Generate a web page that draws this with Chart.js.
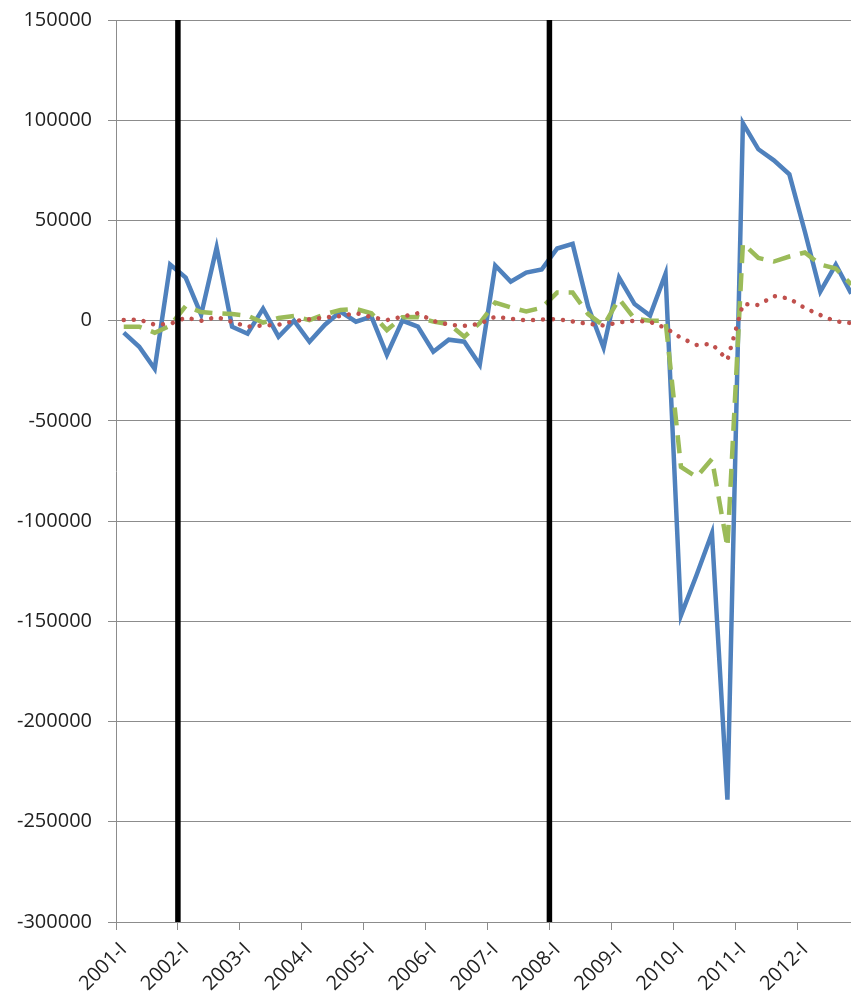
<!DOCTYPE html>
<html>
<head>
<meta charset="utf-8">
<script src="https://cdn.jsdelivr.net/npm/chart.js@4"></script>
<style>
  html, body { margin: 0; padding: 0; background: #fff; overflow: hidden; }
  #wrap { width: 870px; height: 991px; }
</style>
</head>
<body>
<div id="wrap"><canvas id="chart" width="870" height="991"></canvas></div>
<script>
// quarters on the category axis
var quarters = [
    '2001-I', '2001-II', '2001-III', '2001-IV',
    '2002-I', '2002-II', '2002-III', '2002-IV',
    '2003-I', '2003-II', '2003-III', '2003-IV',
    '2004-I', '2004-II', '2004-III', '2004-IV',
    '2005-I', '2005-II', '2005-III', '2005-IV',
    '2006-I', '2006-II', '2006-III', '2006-IV',
    '2007-I', '2007-II', '2007-III', '2007-IV',
    '2008-I', '2008-II', '2008-III', '2008-IV',
    '2009-I', '2009-II', '2009-III', '2009-IV',
    '2010-I', '2010-II', '2010-III', '2010-IV',
    '2011-I', '2011-II', '2011-III', '2011-IV',
    '2012-I', '2012-II', '2012-III', '2012-IV'
];

// solid blue series
var seriesBlue = [
    -6000, -13000, -24000, 28000,
    21500, 3000, 36500, -3000,
    -6500, 6000, -8000, 0,
    -10500, -2000, 4500, -500,
    2000, -17000, 0, -3000,
    -15500, -9500, -10500, -22000,
    27500, 19500, 24000, 25500,
    36000, 38300, 7000, -13500,
    21500, 8300, 2500, 23300,
    -147000, -127000, -106000, -239000,
    98500, 85500, 80000, 73000,
    44500, 14500, 28000, 13500
];

// dashed green series
var seriesGreen = [
    -3000, -3000, -6000, -2500,
    7300, 4300, 3700, 3300,
    2500, -1000, 1300, 2300,
    300, 3300, 5300, 5800,
    3700, -4700, 1700, 1800,
    -500, -1700, -8000, -1200,
    9000, 6600, 4600, 6400,
    14000, 14000, 3300, -2500,
    10800, 1000, 0, 0,
    -73000, -78000, -69000, -113000,
    38500, 31300, 29500, 32000,
    34000, 28000, 26000, 18000
];

// dotted red series
var seriesRed = [
    300, 500, -2000, -1600,
    1500, -100, 1800, -600,
    -3000, -2400, -2000, -200,
    700, 1600, 2300, 3800,
    1800, 300, 2000, 3700,
    -200, -2000, -2600, -1600,
    2000, 1000, 100, 600,
    800, -400, -1600, -2400,
    -900, 0, -600, -3600,
    -8600, -12100, -11600, -19600,
    8300, 7800, 12300, 11000,
    6300, 2800, -400, -1200
];

// black vertical lines sit at the start of these quarters
var dividers = ['2002-I', '2008-I'];

var yMin = -300000, yMax = 150000, yStep = 50000;

var axisGrey = '#8c8c8c';
var textFont = { family: "'Open Sans', sans-serif", size: 20 };

var dividerPlugin = {
    id: 'dividers',
    afterDatasetsDraw: function(chart) {
        var ctx = chart.ctx;
        var area = chart.chartArea;
        var x = chart.scales.x;
        ctx.save();
        ctx.strokeStyle = '#000';
        ctx.lineWidth = 5.5;
        dividers.forEach(function(label) {
            var i = quarters.indexOf(label);
            var px = (x.getPixelForValue(i - 1) + x.getPixelForValue(i)) / 2;
            ctx.beginPath();
            ctx.moveTo(px, area.top);
            ctx.lineTo(px, area.bottom);
            ctx.stroke();
        });
        ctx.restore();
    }
};

new Chart(document.getElementById('chart').getContext('2d'), {
    type: 'line',
    data: {
        labels: quarters,
        datasets: [{
            data: seriesBlue,
            borderColor: '#4F81BD',
            borderWidth: 4.5,
            pointRadius: 0,
            tension: 0,
            order: 3
        }, {
            data: seriesGreen,
            borderColor: '#9BBB59',
            borderWidth: 4.5,
            borderDash: [18, 10],
            pointRadius: 0,
            tension: 0,
            order: 2
        }, {
            data: seriesRed,
            borderColor: '#C0504D',
            borderWidth: 4.5,
            borderDash: [0.01, 10],
            borderCapStyle: 'round',
            pointRadius: 0,
            tension: 0,
            order: 1
        }]
    },
    options: {
        responsive: false,
        animation: false,
        layout: { padding: { top: 20, right: 11, left: 0, bottom: 0 } },
        plugins: {
            legend: { display: false },
            tooltip: { enabled: false }
        },
        scales: {
            x: {
                offset: true,
                grid: {
                    offset: true,
                    drawOnChartArea: false,
                    tickLength: 8,
                    color: function(c) { return c.index % 4 === 0 ? axisGrey : 'rgba(0,0,0,0)'; }
                },
                border: { color: axisGrey, width: 1 },
                ticks: {
                    autoSkip: false,
                    minRotation: 45,
                    maxRotation: 45,
                    padding: 8,
                    color: '#222',
                    font: textFont,
                    callback: function(v, i) { return i % 4 === 0 ? quarters[i] : ''; }
                },
                afterFit: function(s) {
                    s.height = 69;
                    s.paddingLeft = 0;
                    s.paddingRight = 0;
                }
            },
            y: {
                min: yMin,
                max: yMax,
                grid: { color: axisGrey, tickLength: 8 },
                border: { color: axisGrey, width: 1 },
                ticks: {
                    stepSize: yStep,
                    padding: 16,
                    color: '#222',
                    font: textFont,
                    callback: function(v) { return String(v); }
                },
                afterFit: function(s) {
                    s.width = 116;
                    s.paddingTop = 0;
                    s.paddingBottom = 0;
                }
            }
        }
    },
    plugins: [dividerPlugin]
});
</script>
</body>
</html>
